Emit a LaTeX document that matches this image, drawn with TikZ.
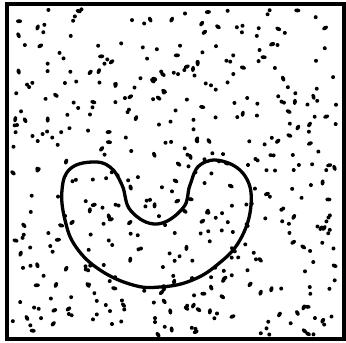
\documentclass[tikz,border=0pt]{standalone}
\begin{document}
\begin{tikzpicture}[x=1pt,y=-1pt,
  dotstyle/.style={fill=black},
  bean/.style={line width=3.3pt, line join=round},
  frame/.style={line width=3.4pt}]
\useasboundingbox (0,0) rectangle (346,343);
\fill[white] (0,0) rectangle (346,343);
\pgfmathsetseed{4217}
\foreach \i in {1,...,440}{
  \pgfmathsetmacro{\px}{12+326*rnd}
  \pgfmathsetmacro{\py}{9+326*rnd}
  \pgfmathsetmacro{\pa}{180*rnd}
  \pgfmathsetmacro{\pe}{rnd<0.3 ? 3.1 : 2.0}
  \fill[dotstyle,rotate around={\pa:(\px,\py)}] (\px,\py) ellipse [x radius=\pe pt, y radius=2.0pt];
}
\draw[bean] plot[smooth cycle, tension=0.7] coordinates {
  (92,162) (70,169) (62,190) (65,220) (76,247) (100,270)
  (133,285) (160,287) (190,281) (217,265) (240,240) (251,205)
  (245,176) (222,161) (200,165) (190,185) (183,208)
  (157,224) (131,211) (122,185) (110,167)};
\draw[frame] (7,4) rectangle (344,339);
\end{tikzpicture}
\end{document}
